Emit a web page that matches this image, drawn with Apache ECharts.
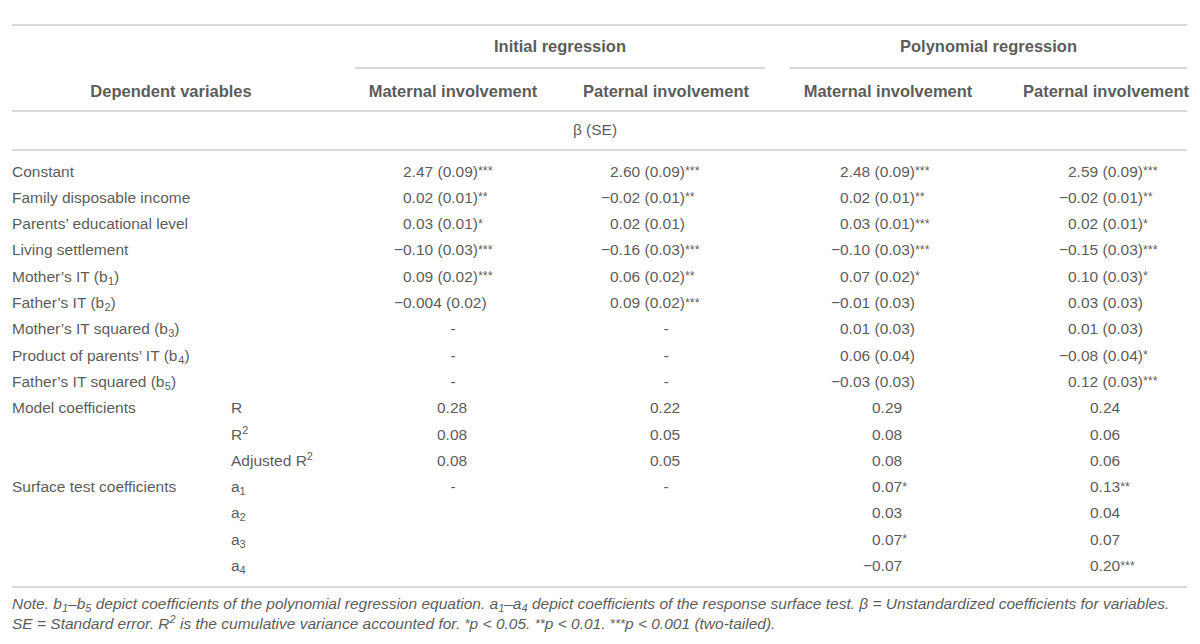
<!DOCTYPE html>
<html>
<head>
<meta charset="utf-8">
<title>Initial and polynomial regression</title>
<script src="https://cdn.jsdelivr.net/npm/echarts@6/dist/echarts.min.js"></script>
<style>
    html, body { margin: 0; padding: 0; background: #fff; }
    #chart { width: 1200px; height: 644px; }
</style>
</head>
<body>
<div id="chart"></div>
<script>
// ---- table content ----
const groupHeaders = ['Initial regression', 'Polynomial regression'];
const columnHeaders = ['Maternal involvement', 'Paternal involvement', 'Maternal involvement', 'Paternal involvement'];
const stubHeader = 'Dependent variables';
const unitRow = 'β (SE)';

const rowLabels = [
    'Constant', 'Family disposable income', 'Parents’ educational level', 'Living settlement',
    'Mother’s IT (b{sub|1})', 'Father’s IT (b{sub|2})', 'Mother’s IT squared (b{sub|3})',
    'Product of parents’ IT (b{sub|4})', 'Father’s IT squared (b{sub|5})',
    'Model coefficients', '', '', 'Surface test coefficients', '', '', ''
];
const subLabels = [
    '', '', '', '', '', '', '', '', '',
    'R', 'R{sup|2}', 'Adjusted R{sup|2}', 'a{sub|1}', 'a{sub|2}', 'a{sub|3}', 'a{sub|4}'
];
const initialMaternal = [
    '2.47 (0.09)***', '0.02 (0.01)**', '0.03 (0.01)*', '−0.10 (0.03)***', '0.09 (0.02)***',
    '−0.004 (0.02)', '-', '-', '-', '0.28', '0.08', '0.08', '-', '', '', ''
];
const initialPaternal = [
    '2.60 (0.09)***', '−0.02 (0.01)**', '0.02 (0.01)', '−0.16 (0.03)***', '0.06 (0.02)**',
    '0.09 (0.02)***', '-', '-', '-', '0.22', '0.05', '0.05', '-', '', '', ''
];
const polyMaternal = [
    '2.48 (0.09)***', '0.02 (0.01)**', '0.03 (0.01)***', '−0.10 (0.03)***', '0.07 (0.02)*',
    '−0.01 (0.03)', '0.01 (0.03)', '0.06 (0.04)', '−0.03 (0.03)', '0.29', '0.08', '0.08',
    '0.07*', '0.03', '0.07*', '−0.07'
];
const polyPaternal = [
    '2.59 (0.09)***', '−0.02 (0.01)**', '0.02 (0.01)*', '−0.15 (0.03)***', '0.10 (0.03)*',
    '0.03 (0.03)', '0.01 (0.03)', '−0.08 (0.04)*', '0.12 (0.03)***', '0.24', '0.06', '0.06',
    '0.13**', '0.04', '0.07', '0.20***'
];
const noteLines = [
    'Note. b{isub|1}–b{isub|5} depict coefficients of the polynomial regression equation. a{isub|1}–a{isub|4} depict coefficients of the response surface test. β = Unstandardized coefficients for variables.',
    'SE = Standard error. R{isup|2} is the cumulative variance accounted for. {istar|*}p < 0.05. {istar|**}p < 0.01. {istar|***}p < 0.001 (two-tailed).'
];

// ---- layout ----
const FONT = '"Liberation Sans", Arial, Helvetica, sans-serif';
const TEXT = '#2e2e2e';
const RULE = '#cbcbcb';
const BODY_SIZE = 15.5, HEAD_SIZE = 16.5, NOTE_SIZE = 15.5;
const colCenters = [453, 666, 888, 1106];
const coefShift = [-50, -56, -48, -38];
const singleShift = -16;
const groupSpans = [[355, 765], [790, 1187]];
const stubX = 12, subX = 231, ruleLeft = 12, ruleRight = 1187;
const yTopRule = 25, yGroup = 46, yGroupRule = 68, yColHead = 91, yHeadRule = 111;
const yUnit = 129, yUnitRule = 150, firstRowY = 171, rowStep = 26.3;
const yBottomRule = firstRowY + rowStep * (rowLabels.length - 1) + 21;
const yNote = yBottomRule + 17, noteStep = 20;

const ctx = document.createElement('canvas').getContext('2d');
ctx.font = BODY_SIZE + 'px ' + FONT;
const minusW = ctx.measureText('−').width;

const rowY = i => firstRowY + i * rowStep;
const starred = s => s.replace(/(\*+)$/, '{st|$1}');

function cellItem(x, y, text, align, dx) {
    return { name: text, value: [x, y], label: { align: align, offset: [dx || 0, 0] } };
}

// body cells
const bodyCells = [];
rowLabels.forEach((t, i) => { if (t) bodyCells.push(cellItem(stubX, rowY(i), t, 'left')); });
subLabels.forEach((t, i) => { if (t) bodyCells.push(cellItem(subX, rowY(i), t, 'left')); });
[initialMaternal, initialPaternal, polyMaternal, polyPaternal].forEach((col, j) => {
    const cx = colCenters[j];
    col.forEach((v, i) => {
        if (!v) return;
        if (v === '-') { bodyCells.push(cellItem(cx, rowY(i), v, 'center')); return; }
        const x = cx + (v.indexOf('(') >= 0 ? coefShift[j] : singleShift);
        const hang = v.charAt(0) === '−' ? -minusW : 0;
        bodyCells.push(cellItem(x, rowY(i), starred(v), 'left', hang));
    });
});

// header cells
const headCells = [];
groupHeaders.forEach((t, j) => headCells.push(cellItem((groupSpans[j][0] + groupSpans[j][1]) / 2, yGroup, t, 'center')));
columnHeaders.forEach((t, j) => headCells.push(cellItem(colCenters[j], yColHead, t, 'center')));
headCells.push(cellItem(171, yColHead, stubHeader, 'center'));

const noteCells = noteLines.map((t, i) => cellItem(stubX, yNote + i * noteStep, t, 'left'));

// horizontal rules
const hRule = (x1, x2, y) => [{ coord: [x1, y] }, { coord: [x2, y] }];
const rules = [
    hRule(ruleLeft, ruleRight, yTopRule),
    hRule(groupSpans[0][0], groupSpans[0][1], yGroupRule),
    hRule(groupSpans[1][0], groupSpans[1][1], yGroupRule),
    hRule(ruleLeft, ruleRight, yHeadRule),
    hRule(ruleLeft, ruleRight, yUnitRule),
    hRule(ruleLeft, ruleRight, yBottomRule)
];

const baseLabel = {
    show: true, position: 'inside', verticalAlign: 'middle',
    color: TEXT, fontFamily: FONT, fontSize: BODY_SIZE, lineHeight: 20,
    formatter: p => p.name
};
const richNormal = {
    sub: { fontSize: 11, lineHeight: 10, verticalAlign: 'bottom', color: TEXT, fontFamily: FONT },
    sup: { fontSize: 11, lineHeight: 10, verticalAlign: 'top', color: TEXT, fontFamily: FONT },
    st: { fontSize: 12.5, verticalAlign: 'middle', color: TEXT, fontFamily: FONT }
};
const richItalic = {
    isub: { fontSize: 11, lineHeight: 10, verticalAlign: 'bottom', fontStyle: 'italic', color: TEXT, fontFamily: FONT },
    isup: { fontSize: 11, lineHeight: 10, verticalAlign: 'top', fontStyle: 'italic', color: TEXT, fontFamily: FONT },
    istar: { fontSize: 13, verticalAlign: 'middle', fontStyle: 'italic', color: TEXT, fontFamily: FONT }
};
const hidden = { color: 'transparent' };

const chart = echarts.init(document.getElementById('chart'), null, { renderer: 'svg' });
chart.setOption({
    backgroundColor: '#fff',
    animation: false,
    grid: { left: 0, right: 0, top: 0, bottom: 0 },
    xAxis: { type: 'value', min: 0, max: 1200, show: false },
    yAxis: { type: 'value', min: 0, max: 644, inverse: true, show: false },
    series: [
        {
            type: 'scatter', silent: true, symbolSize: 1, itemStyle: hidden,
            data: bodyCells,
            label: Object.assign({}, baseLabel, { rich: richNormal }),
            markLine: {
                silent: true, symbol: 'none', label: { show: false },
                lineStyle: { color: RULE, width: 1.5, type: 'solid' },
                data: rules
            }
        },
        {
            type: 'scatter', silent: true, symbolSize: 1, itemStyle: hidden,
            data: headCells,
            label: Object.assign({}, baseLabel, { fontWeight: 'bold', fontSize: HEAD_SIZE })
        },
        {
            type: 'scatter', silent: true, symbolSize: 1, itemStyle: hidden,
            data: [cellItem(595, yUnit, unitRow, 'center')],
            label: Object.assign({}, baseLabel)
        },
        {
            type: 'scatter', silent: true, symbolSize: 1, itemStyle: hidden,
            data: noteCells,
            label: Object.assign({}, baseLabel, { fontStyle: 'italic', fontSize: NOTE_SIZE, rich: richItalic })
        }
    ]
});
window.addEventListener('resize', () => chart.resize());
</script>
</body>
</html>
